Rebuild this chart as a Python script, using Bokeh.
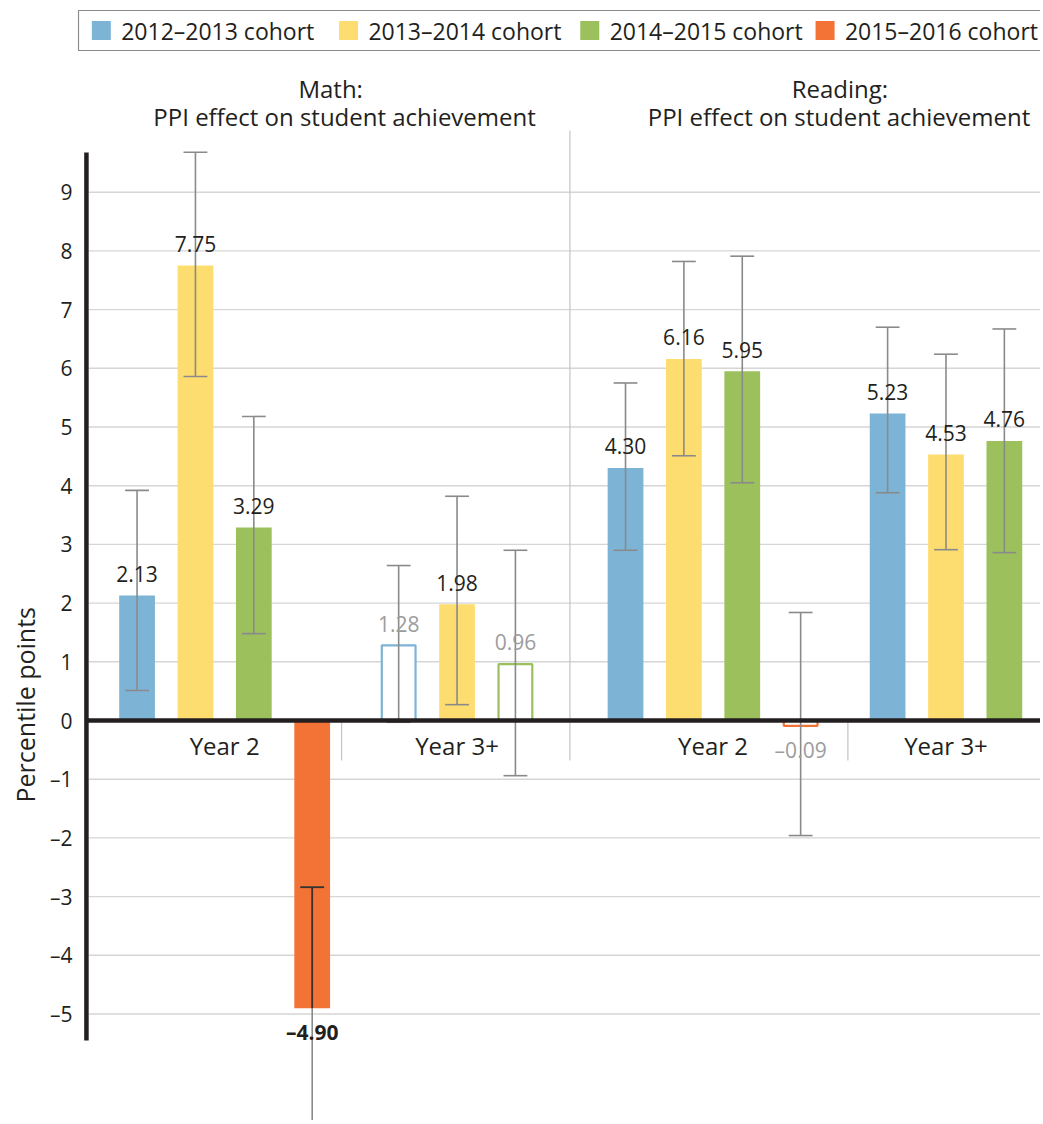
from bokeh.plotting import figure
from bokeh.models import Range1d, FixedTicker, Title, ColumnDataSource
from bokeh.core.properties import value, field
from bokeh.embed import file_html
from bokeh.resources import INLINE

# ---------------- data ----------------
cohorts = ["2012–2013 cohort", "2013–2014 cohort", "2014–2015 cohort", "2015–2016 cohort"]
cohort_colors = ["#7db4d6", "#fedd70", "#9bc05c", "#f37336"]

panel_titles = ["Math:", "Reading:"]
panel_subtitle = "PPI effect on student achievement"
group_labels = ["Year 2", "Year 3+", "Year 2", "Year 3+"]
y_axis_title = "Percentile points"

math_year2 = [2.13, 7.75, 3.29, -4.90]
math_year3 = [1.28, 1.98, 0.96]
reading_year2 = [4.30, 6.16, 5.95, -0.09]
reading_year3 = [5.23, 4.53, 4.76]

math_year2_low = [0.51, 5.86, 1.48, -6.96]
math_year2_high = [3.92, 9.68, 5.18, -2.84]
math_year3_low = [-0.03, 0.27, -0.94]
math_year3_high = [2.64, 3.82, 2.90]
reading_year2_low = [2.90, 4.51, 4.05, -1.96]
reading_year2_high = [5.75, 7.82, 7.91, 1.84]
reading_year3_low = [3.88, 2.91, 2.86]
reading_year3_high = [6.70, 6.24, 6.67]

math_year2_sig = [True, True, True, True]
math_year3_sig = [False, True, False]
reading_year2_sig = [True, True, True, False]
reading_year3_sig = [True, True, True]

y_ticks = list(range(-5, 10))

# ---------------- layout ----------------
W, H = 1040, 1120
LEFT = 70
ZERO_Y = 720.0
UNIT = 58.7


def py(Y):
    return (ZERO_Y - Y) / UNIT


group_x0 = [130.0, 393.5, 622.0, 886.0]
SLOT = 58.8
BAR_W = 36
CAP = 12
FONT = "Open Sans"
INK = "#231f20"
ERR = "#8a8a8a"

groups = [
    (math_year2, math_year2_low, math_year2_high, math_year2_sig),
    (math_year3, math_year3_low, math_year3_high, math_year3_sig),
    (reading_year2, reading_year2_low, reading_year2_high, reading_year2_sig),
    (reading_year3, reading_year3_low, reading_year3_high, reading_year3_sig),
]

rows = {k: [] for k in ["x", "v", "lo", "hi", "sig", "color", "label", "ly", "tcolor", "style"]}
group_centers = []
for g, (vals, lo, hi, sig) in enumerate(groups):
    xs = []
    for i, v in enumerate(vals):
        x = group_x0[g] + i * SLOT
        xs.append(x)
        rows["x"].append(x)
        rows["v"].append(v)
        rows["lo"].append(lo[i])
        rows["hi"].append(hi[i])
        rows["sig"].append(sig[i])
        rows["color"].append(cohort_colors[i])
        rows["label"].append(f"{v:.2f}".replace("-", "–"))
        rows["ly"].append(v + 0.37 if v >= 0 else v - 0.41)
        rows["tcolor"].append(INK if sig[i] else "#9c9c9c")
        rows["style"].append("bold" if (sig[i] and v < 0) else "normal")
    group_centers.append(sum(xs) / len(xs))


def subset(pred):
    idx = [i for i in range(len(rows["x"])) if pred(i)]
    return ColumnDataSource({k: [rows[k][i] for i in idx] for k in rows})


all_src = ColumnDataSource(rows)
filled_src = subset(lambda i: rows["sig"][i])
hollow_src = subset(lambda i: not rows["sig"][i])

p = figure(width=W, height=H,
           x_range=Range1d(LEFT, W),
           y_range=Range1d(py(H), py(0)),
           x_axis_location=None,
           output_backend="svg", toolbar_location=None,
           min_border_left=LEFT, min_border_right=0,
           min_border_top=0, min_border_bottom=0)
p.grid.visible = False
p.outline_line_color = None
p.background_fill_color = "white"
p.border_fill_color = "white"

# y axis (tick labels only; spine drawn separately)
p.yaxis.ticker = FixedTicker(ticks=y_ticks)
p.yaxis.major_label_overrides = {t: (f"–{-t}" if t < 0 else str(t)) for t in y_ticks}
p.yaxis.axis_line_color = None
p.yaxis.major_tick_line_color = None
p.yaxis.minor_tick_line_color = None
p.yaxis.major_tick_out = 0
p.yaxis.major_tick_in = 0
p.yaxis.major_label_standoff = 5
p.yaxis.major_label_text_font = FONT
p.yaxis.major_label_text_font_size = "21px"
p.yaxis.major_label_text_color = INK

# y axis title, placed left of the tick labels, centred near the zero line
p.add_layout(Title(text=y_axis_title, align="left", offset=318,
                   text_font=FONT, text_font_size="25px",
                   text_font_style="normal", text_color=INK), "left")

# gridlines
grid_vals = [t for t in y_ticks if t != 0]
p.segment(x0=[81] * len(grid_vals), y0=grid_vals, x1=[W + 10] * len(grid_vals), y1=grid_vals,
          line_color="#d6d6d6", line_width=1.4)

# separators
p.segment(x0=[336, 846], y0=[0, 0], x1=[336, 846], y1=[py(760), py(760)],
          line_color="#c4c4c4", line_width=1.2)
p.segment(x0=[566], y0=[py(130)], x1=[566], y1=[py(760)],
          line_color="#c4c4c4", line_width=1.2)

# bars
p.vbar(x="x", top="v", bottom=0, width=BAR_W, source=filled_src,
       fill_color="color", line_color=None)
p.vbar(x="x", top="v", bottom=0, width=BAR_W - 2, source=hollow_src,
       fill_color="white", line_color="color", line_width=2.2)

# error bars
p.segment(x0="x", y0="lo", x1="x", y1="hi", source=all_src, line_color=ERR, line_width=1.6)
caps = ColumnDataSource(dict(
    x0=[x - CAP for x in rows["x"]] * 2,
    x1=[x + CAP for x in rows["x"]] * 2,
    y=rows["lo"] + rows["hi"]))
p.segment(x0="x0", y0="y", x1="x1", y1="y", source=caps, line_color=ERR, line_width=1.6)

# darker part of an error bar that lies inside a negative filled bar
neg = [i for i in range(len(rows["x"])) if rows["sig"][i] and rows["v"][i] < 0]
dark = ColumnDataSource(dict(
    x=[rows["x"][i] for i in neg],
    y0=[rows["hi"][i] for i in neg],
    y1=[max(rows["lo"][i], rows["v"][i]) for i in neg]))
p.segment(x0="x", y0="y0", x1="x", y1="y1", source=dark, line_color="#3d302a", line_width=1.8)
darkcap = ColumnDataSource(dict(
    x0=[rows["x"][i] - CAP for i in neg], x1=[rows["x"][i] + CAP for i in neg],
    y=[rows["hi"][i] for i in neg]))
p.segment(x0="x0", y0="y", x1="x1", y1="y", source=darkcap, line_color="#3d302a", line_width=1.8)

# zero line and spine
p.segment(x0=[79], y0=[0], x1=[W + 10], y1=[0], line_color=INK, line_width=4.5)
p.segment(x0=[79], y0=[py(152)], x1=[79], y1=[py(1040)], line_color=INK, line_width=4.5)

# data labels
p.text(x="x", y="ly", text="label", source=all_src,
       text_align="center", text_baseline="middle",
       text_font=value(FONT), text_font_size=value("21px"),
       text_color=field("tcolor"), text_font_style=field("style"))

# group labels
p.text(x=group_centers, y=[py(745)] * 4, text=group_labels,
       text_align="center", text_baseline="middle",
       text_font=value(FONT), text_font_size=value("24px"), text_color=INK)

# panel titles
p.text(x=[325, 339, 838, 837], y=[py(88), py(116), py(88), py(116)],
       text=[panel_titles[0], panel_subtitle, panel_titles[1], panel_subtitle],
       text_align="center", text_baseline="middle",
       text_font=value(FONT), text_font_size=value("24px"), text_color=INK)

# legend
p.quad(left=[71], right=[W + 20], top=[py(10)], bottom=[py(50)],
       fill_color=None, line_color="#8a8a8a", line_width=1.2)
text_left = [114, 363, 606, 843]
p.rect(x=[s - 20 for s in text_left], y=[py(30)] * 4, width=19, height=19,
       width_units="screen", height_units="screen",
       fill_color=cohort_colors, line_color=None)
p.text(x=text_left, y=[py(30)] * 4, text=cohorts,
       text_align="left", text_baseline="middle",
       text_font=value(FONT), text_font_size=value("23px"), text_color=INK)

open("out.html", "w").write(file_html(p, INLINE))
